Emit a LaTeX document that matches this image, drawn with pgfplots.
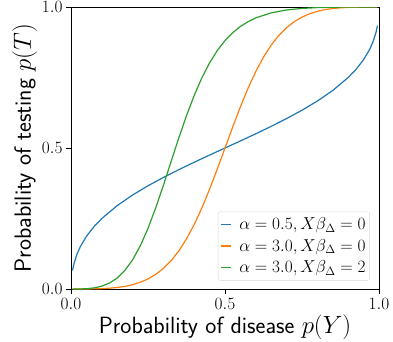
\documentclass[border=0pt]{standalone}
\usepackage{pgfplots}
\pgfplotsset{compat=1.18}
\definecolor{tabblue}{HTML}{1F77B4}
\definecolor{taborange}{HTML}{FF7F0E}
\definecolor{tabgreen}{HTML}{2CA02C}
\begin{document}
\begin{tikzpicture}
\begin{axis}[
  name=ax,
  scale only axis,
  width=308pt, height=282pt,
  xmin=0, xmax=1, ymin=0, ymax=1,
  xtick={0,0.5,1}, ytick={0,0.5,1},
  tick align=outside, tick pos=left,
  major tick length=5pt,
  axis line style={line width=0.9pt},
  every tick/.style={black, line width=0.9pt},
  ticklabel style={font=\fontsize{17}{17}\selectfont},
  xticklabel style={yshift=-1pt},
  /pgf/number format/.cd, fixed, fixed zerofill, precision=1,
  /pgfplots/.cd,
  xlabel={\sffamily Probability of disease $p(Y)$},
  ylabel={\sffamily Probability of testing $p(T)$},
  label style={font=\fontsize{23.5}{24}\selectfont},
  xlabel style={yshift=2pt},
  ylabel style={yshift=-2pt},
  legend style={at={(0.97,0.03)}, anchor=south east,
    font=\fontsize{17}{21}\selectfont, draw=black!15, rounded corners=2pt,
    inner xsep=2pt, inner ysep=4pt, row sep=4pt,
    nodes={inner sep=2pt},
    /tikz/every odd column/.append style={column sep=6pt}},
  legend cell align=left,
  legend image code/.code={\draw[#1, line width=1.2pt] (0pt,0pt) -- (10pt,0pt);},
  every axis plot/.append style={line width=1.2pt},
  clip=true,
]
\addplot[tabblue] coordinates {
(0.005,0.0662)(0.01,0.0913)(0.02,0.125)(0.03,0.1496)(0.05,0.1866)(0.075,0.2216)
(0.1,0.25)(0.15,0.2958)(0.2,0.3333)(0.25,0.3660)(0.3,0.3956)(0.35,0.4232)
(0.4,0.4495)(0.45,0.4750)(0.5,0.5)(0.55,0.5250)(0.6,0.5505)(0.65,0.5768)
(0.7,0.6044)(0.75,0.6340)(0.8,0.6667)(0.85,0.7042)(0.9,0.75)(0.925,0.7784)
(0.95,0.8134)(0.97,0.8504)(0.98,0.875)(0.99,0.9087)(0.995,0.9338)
};
\addlegendentry{$\alpha=0.5, X\beta_\Delta=0$}
\addplot[taborange] coordinates {
(0.005,0)(0.03,0.00003)(0.05,0.00015)(0.075,0.00053)(0.1,0.00137)(0.125,0.0029)
(0.15,0.00547)(0.175,0.0092)(0.2,0.01538)(0.225,0.0239)(0.25,0.0357)(0.275,0.0518)
(0.3,0.0730)(0.325,0.1004)(0.35,0.1350)(0.375,0.1776)(0.4,0.2286)(0.425,0.2876)
(0.45,0.3539)(0.475,0.4255)(0.5,0.5)(0.525,0.5745)(0.55,0.6461)(0.575,0.7124)
(0.6,0.7714)(0.625,0.8224)(0.65,0.8650)(0.675,0.8996)(0.7,0.9270)(0.725,0.9482)
(0.75,0.9643)(0.775,0.9761)(0.8,0.9846)(0.825,0.9908)(0.85,0.99453)(0.875,0.9971)
(0.9,0.99863)(0.95,0.99985)(0.995,1.0)
};
\addlegendentry{$\alpha=3.0, X\beta_\Delta=0$}
\addplot[tabgreen] coordinates {
(0.005,0)(0.02,0.00006)(0.03,0.00022)(0.05,0.00108)(0.075,0.00392)(0.1,0.01003)
(0.125,0.02109)(0.15,0.0390)(0.175,0.0659)(0.2,0.1035)(0.225,0.1531)(0.25,0.2149)
(0.275,0.2874)(0.3,0.3678)(0.325,0.4520)(0.35,0.5357)(0.375,0.6148)(0.4,0.6864)
(0.425,0.7490)(0.45,0.8019)(0.475,0.8455)(0.5,0.8808)(0.525,0.9089)(0.55,0.9310)
(0.575,0.9482)(0.6,0.9614)(0.65,0.9793)(0.7,0.9895)(0.75,0.9950)(0.8,0.9979)
(0.85,0.9993)(0.9,0.9998)(0.995,1.0)
};
\addlegendentry{$\alpha=3.0, X\beta_\Delta=2$}
\end{axis}
\pgfresetboundingbox
\path[use as bounding box] ([xshift=-71pt,yshift=-52pt]ax.south west) rectangle ([xshift=14pt,yshift=7pt]ax.north east);
\end{tikzpicture}
\end{document}
